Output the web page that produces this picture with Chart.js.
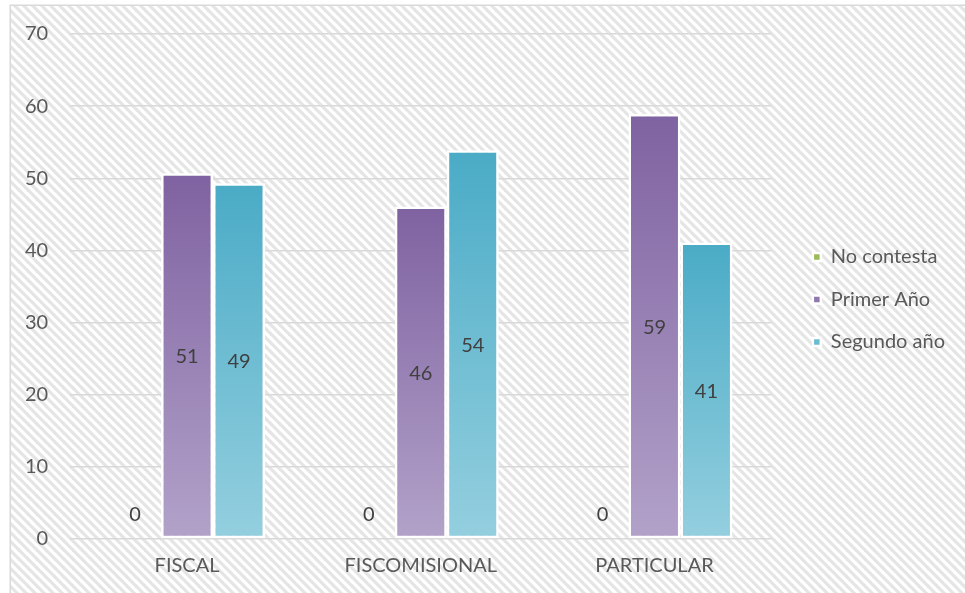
<!DOCTYPE html>
<html>
<head>
<meta charset="utf-8">
<script src="https://cdn.jsdelivr.net/npm/chart.js@4.4.1/dist/chart.umd.min.js"></script>
<style>
  html, body { margin: 0; padding: 0; background: #ffffff; }
  #wrap { width: 965px; height: 593px; position: relative; }
</style>
</head>
<body>
<div id="wrap"><canvas id="c" width="965" height="593"></canvas></div>
<script>
// ---- data ----
const categories = ['FISCAL', 'FISCOMISIONAL', 'PARTICULAR'];
const seriesNames = ['No contesta', 'Primer Año', 'Segundo año'];
const noContesta = [0, 0, 0];
const primerAno = [50.7, 46.1, 58.9];
const segundoAno = [49.3, 53.9, 41.1];
const yTicks = [0, 10, 20, 30, 40, 50, 60, 70];

// ---- styles ----
const FONT = 'Lato, "Open Sans", sans-serif';
const colors = {
  green: ['#9BBB59', '#C4D79E'],
  purple: ['#7F62A1', '#B2A2C9'],
  teal: ['#4AABC6', '#94CFDF']
};

function gradientFill(pair) {
  return function (ctx) {
    if (ctx.type !== 'data') return pair[0];
    const ch = ctx.chart;
    const ys = ch.scales && ch.scales.y;
    if (!ys || !ch.chartArea) return pair[0];
    const y0 = ys.getPixelForValue(ctx.raw);
    const y1 = ys.getPixelForValue(0);
    if (!isFinite(y0) || !isFinite(y1) || y0 === y1) return pair[0];
    const g = ch.ctx.createLinearGradient(0, y0, 0, y1);
    g.addColorStop(0, pair[0]);
    g.addColorStop(1, pair[1]);
    return g;
  };
}

// background pattern + frame
const backgroundPlugin = {
  id: 'bgPattern',
  beforeDraw(chart) {
    const c = chart.ctx;
    const W = chart.width, H = chart.height;
    const s = 9;
    const pc = document.createElement('canvas');
    pc.width = s; pc.height = s;
    const p = pc.getContext('2d');
    p.fillStyle = '#ffffff';
    p.fillRect(0, 0, s, s);
    p.strokeStyle = '#e5e5e5';
    p.lineWidth = 3.2;
    for (let k = -1; k <= 1; k++) {
      p.beginPath();
      p.moveTo(k * s - 1, -1);
      p.lineTo(k * s + s + 1, s + 1);
      p.stroke();
    }
    c.save();
    c.fillStyle = '#ffffff';
    c.fillRect(0, 0, W, H);
    c.fillStyle = c.createPattern(pc, 'repeat');
    c.fillRect(10, 5, W - 10, H - 5);
    c.strokeStyle = '#d9d9d9';
    c.lineWidth = 1.5;
    c.beginPath();
    c.moveTo(10.25, H);
    c.lineTo(10.25, 5.25);
    c.lineTo(W, 5.25);
    c.stroke();
    c.restore();
  }
};

// data labels
const labelPlugin = {
  id: 'valueLabels',
  afterDatasetsDraw(chart) {
    const c = chart.ctx;
    c.save();
    c.font = '20px ' + FONT;
    c.fillStyle = '#404040';
    c.textAlign = 'center';
    c.textBaseline = 'middle';
    chart.data.datasets.forEach((ds, di) => {
      const meta = chart.getDatasetMeta(di);
      meta.data.forEach((el, i) => {
        const v = ds.data[i];
        const y = v > 0 ? (el.y + el.base) / 2 + 1 : el.base - 24;
        c.fillText(String(Math.round(v)), el.x, y);
      });
    });
    c.restore();
  }
};

// nudge legend drawing inside its layout box
const legendShift = {
  id: 'legendShift',
  afterLayout(chart) {
    const lg = chart.legend;
    if (lg) { lg.left += 19; lg.right += 19; lg.top -= 13; lg.bottom -= 13; }
  }
};

const barCommon = {
  borderColor: '#ffffff',
  borderWidth: 2.5,
  borderSkipped: false,
  categoryPercentage: 0.667,
  barPercentage: 1.0
};

new Chart(document.getElementById('c'), {
  type: 'bar',
  data: {
    labels: categories,
    datasets: [
      Object.assign({ label: seriesNames[0], data: noContesta, backgroundColor: gradientFill(colors.green) }, barCommon),
      Object.assign({ label: seriesNames[1], data: primerAno, backgroundColor: gradientFill(colors.purple) }, barCommon),
      Object.assign({ label: seriesNames[2], data: segundoAno, backgroundColor: gradientFill(colors.teal) }, barCommon)
    ]
  },
  options: {
    responsive: false,
    animation: false,
    devicePixelRatio: 1,
    layout: { padding: { left: 3, top: 32, right: 29, bottom: 0 } },
    scales: {
      x: {
        grid: { display: false, drawTicks: false },
        border: { display: false },
        ticks: { color: '#595959', font: { family: FONT, size: 20, lineHeight: 1.0 }, padding: 17 }
      },
      y: {
        min: 0, max: 70,
        afterBuildTicks(scale) { scale.ticks = yTicks.map(v => ({ value: v })); },
        grid: { color: '#d9d9d9', lineWidth: 1.5, drawTicks: false },
        border: { display: false },
        ticks: { color: '#595959', font: { family: FONT, size: 20 }, padding: 22 }
      }
    },
    plugins: {
      legend: {
        position: 'right',
        align: 'center',
        labels: {
          color: '#595959',
          font: { family: FONT, size: 20 },
          boxWidth: 8,
          boxHeight: 8,
          padding: 22.5
        }
      },
      tooltip: { enabled: false }
    }
  },
  plugins: [backgroundPlugin, labelPlugin, legendShift]
});
</script>
</body>
</html>
